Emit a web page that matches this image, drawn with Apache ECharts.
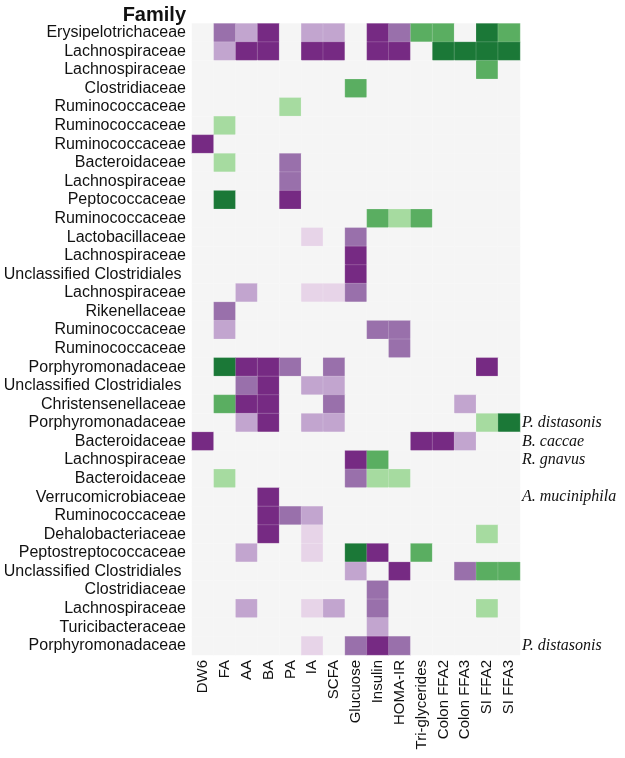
<!DOCTYPE html>
<html><head><meta charset="utf-8">
<script src="https://cdn.jsdelivr.net/npm/echarts@6/dist/echarts.min.js"></script>
<style>html,body{margin:0;padding:0;background:#fff}#c{width:625px;height:758px}</style>
</head><body><div id="c"></div>
<script>
const families = ["Erysipelotrichaceae","Lachnospiraceae","Lachnospiraceae","Clostridiaceae","Ruminococcaceae","Ruminococcaceae","Ruminococcaceae","Bacteroidaceae","Lachnospiraceae","Peptococcaceae","Ruminococcaceae","Lactobacillaceae","Lachnospiraceae","Unclassified Clostridiales ","Lachnospiraceae","Rikenellaceae","Ruminococcaceae","Ruminococcaceae","Porphyromonadaceae","Unclassified Clostridiales ","Christensenellaceae","Porphyromonadaceae","Bacteroidaceae","Lachnospiraceae","Bacteroidaceae","Verrucomicrobiaceae","Ruminococcaceae","Dehalobacteriaceae","Peptostreptococcaceae","Unclassified Clostridiales ","Clostridiaceae","Lachnospiraceae","Turicibacteraceae","Porphyromonadaceae"];
const species = ["","","","","","","","","","","","","","","","","","","","","","P. distasonis","B. caccae","R. gnavus","","A. muciniphila","","","","","","","","P. distasonis"];
const variables = ["DW6","FA","AA","BA","PA","IA","SCFA","Glucuose","Insulin","HOMA-IR","Tri-glycerides","Colon FFA2","Colon FFA3","SI FFA2","SI FFA3"];
// levels: -4..-1 purple (strong..weak), 0 none, 2..4 green (weak..strong)
const values = [
 [0,-3,-2,-4,0,-2,-2,0,-4,-3,3,3,0,4,3],
 [0,-2,-4,-4,0,-4,-4,0,-4,-4,0,4,4,4,4],
 [0,0,0,0,0,0,0,0,0,0,0,0,0,3,0],
 [0,0,0,0,0,0,0,3,0,0,0,0,0,0,0],
 [0,0,0,0,2,0,0,0,0,0,0,0,0,0,0],
 [0,2,0,0,0,0,0,0,0,0,0,0,0,0,0],
 [-4,0,0,0,0,0,0,0,0,0,0,0,0,0,0],
 [0,2,0,0,-3,0,0,0,0,0,0,0,0,0,0],
 [0,0,0,0,-3,0,0,0,0,0,0,0,0,0,0],
 [0,4,0,0,-4,0,0,0,0,0,0,0,0,0,0],
 [0,0,0,0,0,0,0,0,3,2,3,0,0,0,0],
 [0,0,0,0,0,-1,0,-3,0,0,0,0,0,0,0],
 [0,0,0,0,0,0,0,-4,0,0,0,0,0,0,0],
 [0,0,0,0,0,0,0,-4,0,0,0,0,0,0,0],
 [0,0,-2,0,0,-1,-1,-3,0,0,0,0,0,0,0],
 [0,-3,0,0,0,0,0,0,0,0,0,0,0,0,0],
 [0,-2,0,0,0,0,0,0,-3,-3,0,0,0,0,0],
 [0,0,0,0,0,0,0,0,0,-3,0,0,0,0,0],
 [0,4,-4,-4,-3,0,-3,0,0,0,0,0,0,-4,0],
 [0,0,-3,-4,0,-2,-2,0,0,0,0,0,0,0,0],
 [0,3,-4,-4,0,0,-3,0,0,0,0,0,-2,0,0],
 [0,0,-2,-4,0,-2,-2,0,0,0,0,0,0,2,4],
 [-4,0,0,0,0,0,0,0,0,0,-4,-4,-2,0,0],
 [0,0,0,0,0,0,0,-4,3,0,0,0,0,0,0],
 [0,2,0,0,0,0,0,-3,2,2,0,0,0,0,0],
 [0,0,0,-4,0,0,0,0,0,0,0,0,0,0,0],
 [0,0,0,-4,-3,-2,0,0,0,0,0,0,0,0,0],
 [0,0,0,-4,0,-1,0,0,0,0,0,0,0,2,0],
 [0,0,-2,0,0,-1,0,4,-4,0,3,0,0,0,0],
 [0,0,0,0,0,0,0,-2,0,-4,0,0,-3,3,3],
 [0,0,0,0,0,0,0,0,-3,0,0,0,0,0,0],
 [0,0,-2,0,0,-1,-2,0,-3,0,0,0,0,2,0],
 [0,0,0,0,0,0,0,0,-2,0,0,0,0,0,0],
 [0,0,0,0,0,-1,0,-3,-4,-3,0,0,0,0,0]
];
const data = [];
values.forEach((row, r) => row.forEach((v, c) => data.push([c, r, v])));
const chart = echarts.init(document.getElementById('c'), null, {renderer: 'canvas'});
chart.setOption({
  animation: false,
  backgroundColor: '#fff',
  title: {text: 'Family', right: 434, top: 0, textStyle: {fontFamily: 'Liberation Sans', fontWeight: 'bold', fontSize: 20, color: '#111'}},
  grid: {left: 192, right: 105, top: 23.5, bottom: 103},
  xAxis: {type: 'category', data: variables, position: 'bottom',
    axisLine: {show: false}, axisTick: {show: false}, splitLine: {show: false},
    axisLabel: {rotate: 90, interval: 0, margin: 5, fontFamily: 'Liberation Sans', fontSize: 15, color: '#111'}},
  yAxis: [
    {type: 'category', data: families, inverse: true,
     axisLine: {show: false}, axisTick: {show: false}, splitLine: {show: false},
     axisLabel: {interval: 0, margin: 6, fontFamily: 'Liberation Sans', fontSize: 16, color: '#111'}},
    {type: 'category', data: species, inverse: true, position: 'right',
     axisLine: {show: false}, axisTick: {show: false}, splitLine: {show: false},
     axisLabel: {interval: 0, margin: 2, fontFamily: 'Liberation Serif', fontStyle: 'italic', fontSize: 16, color: '#111'}}
  ],
  visualMap: {type: 'piecewise', show: false, dimension: 2, pieces: [
    {value: -4, color: '#762a83'}, {value: -3, color: '#9970ab'}, {value: -2, color: '#c2a5cf'}, {value: -1, color: '#e7d4e8'},
    {value: 0, color: '#f5f5f5'}, {value: 2, color: '#a6dba0'}, {value: 3, color: '#5aae61'}, {value: 4, color: '#1b7837'}
  ]},
  series: [{type: 'heatmap', data: data, itemStyle: {borderColor: 'rgba(255,255,255,0.35)', borderWidth: 0.5}, emphasis: {disabled: true}}]
});
</script></body></html>
